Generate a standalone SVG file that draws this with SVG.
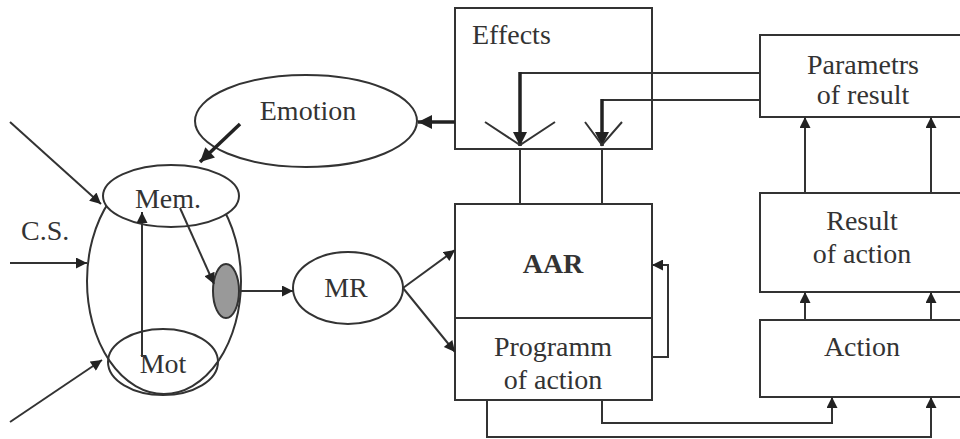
<svg xmlns="http://www.w3.org/2000/svg" width="960" height="439" viewBox="0 0 960 439">
<style>
.s{fill:none;stroke:#333;stroke-width:2}
.b{fill:#fff;stroke:#333;stroke-width:2}
.k{fill:none;stroke:#222;stroke-width:3.5}
.c{text-anchor:middle}
</style>
<defs>
<marker id="a" viewBox="0 0 10 10" refX="10" refY="5" markerWidth="12" markerHeight="11" markerUnits="userSpaceOnUse" orient="auto"><path d="M0,0L10,5L0,10z" fill="#222"/></marker>
<marker id="ak" viewBox="0 0 10 10" refX="10" refY="5" markerWidth="16" markerHeight="14" markerUnits="userSpaceOnUse" orient="auto"><path d="M0,0L10,5L0,10z" fill="#222"/></marker>
</defs>
<g font-family="Liberation Serif, DejaVu Serif, serif" font-size="28" fill="#333">
<g id="effects"><rect class="b" x="455" y="8" width="197" height="141"/><text x="472" y="44">Effects</text></g>
<g id="params"><rect class="b" x="760" y="35" width="210" height="82"/><text class="c" x="863" y="74">Parametrs</text><text class="c" x="863" y="104">of result</text></g>
<g id="result"><rect class="b" x="760" y="193" width="210" height="99"/><text class="c" x="862" y="230">Result</text><text class="c" x="862" y="263">of action</text></g>
<g id="action"><rect class="b" x="760" y="320" width="210" height="77"/><text class="c" x="862" y="356">Action</text></g>
<g id="aar"><rect class="b" x="455" y="204" width="197" height="196"/><line class="s" x1="455" y1="318" x2="652" y2="318"/><text class="c" x="553" y="273" font-weight="bold">AAR</text><text class="c" x="553" y="356">Programm</text><text class="c" x="553" y="389">of action</text></g>
<g id="emotion"><ellipse class="b" cx="306" cy="121" rx="111" ry="46"/><text class="c" x="308" y="120">Emotion</text></g>
<g id="brain"><ellipse class="s" cx="164" cy="281" rx="77" ry="113"/><ellipse class="b" cx="171" cy="196" rx="68" ry="31"/><text class="c" x="168" y="208">Mem.</text><ellipse class="s" cx="163" cy="362" rx="55" ry="33"/><text class="c" x="163" y="373">Mot</text><ellipse cx="226" cy="291" rx="13" ry="27" fill="#999" stroke="#333" stroke-width="2"/></g>
<g id="mr"><ellipse class="b" cx="348" cy="288" rx="55" ry="36"/><text class="c" x="346" y="297">MR</text></g>
<g id="cs"><text x="21" y="240">C.S.</text></g>
</g>
<g id="connectors">
<line class="s" x1="10" y1="122" x2="101" y2="204" marker-end="url(#a)"/>
<line class="s" x1="10" y1="263" x2="87" y2="263" marker-end="url(#a)"/>
<line class="s" x1="10" y1="422" x2="102" y2="360" marker-end="url(#a)"/>
<line class="s" x1="142" y1="357" x2="142" y2="212" marker-end="url(#a)"/>
<line class="s" x1="180" y1="208" x2="214" y2="284" marker-end="url(#a)"/>
<line class="s" x1="240" y1="291" x2="293" y2="291" marker-end="url(#a)"/>
<line class="s" x1="403" y1="288" x2="455" y2="250" marker-end="url(#a)"/>
<line class="s" x1="403" y1="288" x2="455" y2="352" marker-end="url(#a)"/>
<line class="k" x1="455" y1="122" x2="418" y2="122" marker-end="url(#ak)"/>
<line class="k" x1="240" y1="124" x2="200" y2="162" marker-end="url(#ak)"/>
<polyline class="s" points="760,73 520,73"/>
<polyline class="s" points="760,100 602,100"/>
<line class="k" x1="520" y1="72" x2="520" y2="146" marker-end="url(#ak)"/>
<line class="k" x1="602" y1="99" x2="602" y2="146" marker-end="url(#ak)"/>
<polyline class="s" points="485,122 520,145 555,122"/>
<polyline class="s" points="585,122 602,145 622,122"/>
<line class="s" x1="520" y1="149" x2="520" y2="204"/>
<line class="s" x1="602" y1="149" x2="602" y2="204"/>
<polyline class="s" points="652,357 668,357 668,265 652,265" marker-end="url(#a)"/>
<line class="s" x1="805" y1="320" x2="805" y2="292" marker-end="url(#a)"/>
<line class="s" x1="931" y1="320" x2="931" y2="292" marker-end="url(#a)"/>
<line class="s" x1="805" y1="193" x2="805" y2="117" marker-end="url(#a)"/>
<line class="s" x1="931" y1="193" x2="931" y2="117" marker-end="url(#a)"/>
<polyline class="s" points="602,400 602,423 832,423 832,397" marker-end="url(#a)"/>
<polyline class="s" points="487,400 487,437 931,437 931,397" marker-end="url(#a)"/>
</g>
</svg>
